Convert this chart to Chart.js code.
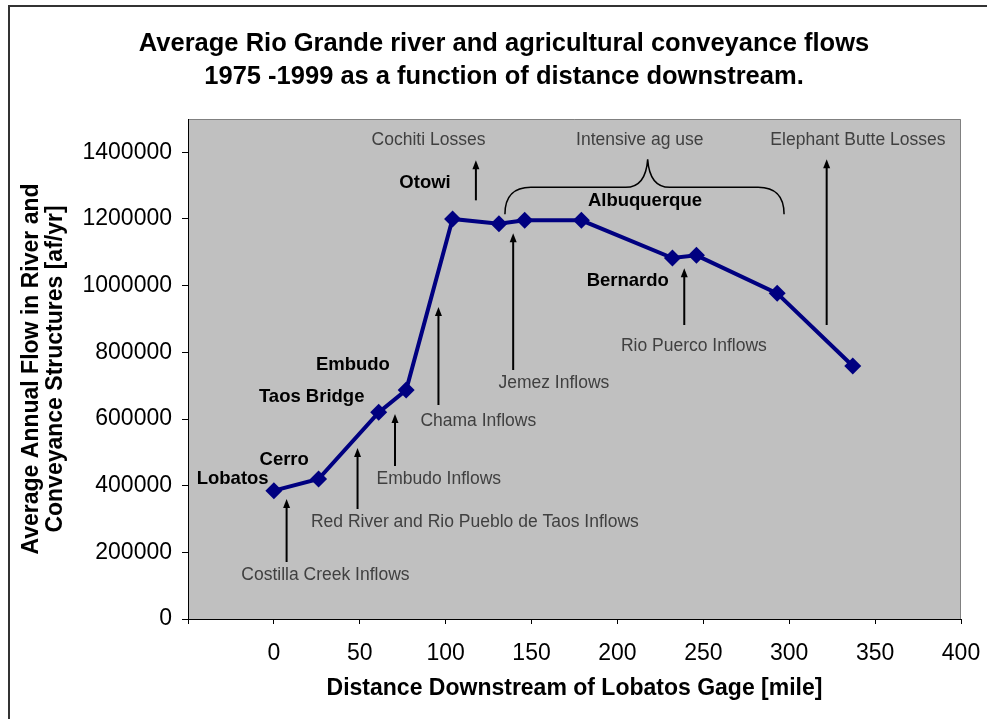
<!DOCTYPE html>
<html lang="en">

<head>
  <meta charset="UTF-8" />
  <title>Rio Grande flows vs distance downstream</title>
  <style>
    body { margin: 0; background: #fff; }
    canvas { display: block; }
  </style>
</head>

<body>
  <canvas id="flowChart" width="987" height="719"></canvas>

  <script src="https://cdn.jsdelivr.net/npm/chart.js@4.4.1/dist/chart.umd.min.js"></script>
  <script>
    // gage data: distance below Lobatos [mile] and mean annual flow [af/yr]
    const distance = [0, 26, 61, 77, 104, 131, 146, 179, 232, 246, 293, 337];
    const flow = [385000, 420000, 620000, 687000, 1200000, 1186000, 1196000, 1196000, 1083000, 1091000, 977000, 759000];

    // axis ticks (the -50 tick has a mark but no label)
    const xTickValues = [-50, 0, 50, 100, 150, 200, 250, 300, 350, 400];
    const yTickValues = [0, 200000, 400000, 600000, 800000, 1000000, 1200000, 1400000];
    const xRange = [-50, 400];
    const yRange = [0, 1500000];

    // gage names (bold), placed in data units
    const siteNames = ['Lobatos', 'Cerro', 'Taos Bridge', 'Embudo', 'Otowi', 'Albuquerque', 'Bernardo'];
    const siteX = [-24, 6, 22, 46, 88, 216, 206];
    const siteY = [420000, 477000, 666000, 762000, 1307000, 1253000, 1013500];

    // grey notes
    const noteText = ['Cochiti Losses', 'Intensive ag use', 'Elephant Butte Losses', 'Costilla Creek Inflows',
      'Red River and Rio Pueblo de Taos Inflows', 'Embudo Inflows', 'Chama Inflows', 'Jemez Inflows', 'Rio Puerco Inflows'];
    const noteX = [90, 213, 340, 30, 117, 96, 119, 163, 244.5];
    const noteY = [1436000, 1436000, 1436000, 132000, 291000, 420000, 594000, 708000, 819000];

    // arrows: x, tail y, head y
    const arrowX = [7.4, 48.7, 70.5, 95.8, 117.6, 139.3, 238.9, 321.8];
    const arrowFrom = [171000, 330000, 459000, 642000, 1256000, 747000, 882000, 882000];
    const arrowTo = [360000, 513000, 615000, 936000, 1376000, 1157000, 1052000, 1379000];

    // brace over the Albuquerque reach: left, tip, right / ends, bar, tip
    const braceX = [134.5, 217.6, 297];
    const braceY = [1214000, 1295000, 1379000];

    const titleLines = ['Average Rio Grande river and agricultural conveyance flows',
      '1975 -1999 as a function of distance downstream.'];

    const FONT = "'Liberation Sans', Arial, sans-serif";

    const annotate = {
      id: 'annotate',
      beforeDraw(chart) {
        const { ctx, chartArea: a } = chart;
        ctx.save();
        ctx.fillStyle = '#fff';
        ctx.fillRect(0, 0, chart.width, chart.height);
        ctx.strokeStyle = '#333';
        ctx.lineWidth = 2;
        ctx.strokeRect(9, 6, 1200, 1200);
        ctx.fillStyle = '#c0c0c0';
        ctx.fillRect(a.left, a.top, a.right - a.left, a.bottom - a.top);
        ctx.strokeStyle = '#808080';
        ctx.lineWidth = 1;
        ctx.beginPath();
        ctx.moveTo(a.left, a.top + 0.5);
        ctx.lineTo(a.right - 0.5, a.top + 0.5);
        ctx.lineTo(a.right - 0.5, a.bottom);
        ctx.stroke();
        ctx.restore();
      },
      beforeDatasetsDraw(chart) {
        const { ctx, scales: { x, y } } = chart;
        ctx.save();

        // arrows
        ctx.strokeStyle = '#000';
        ctx.fillStyle = '#000';
        ctx.lineWidth = 2;
        arrowX.forEach((v, i) => {
          const px = x.getPixelForValue(v);
          const y0 = y.getPixelForValue(arrowFrom[i]);
          const y1 = y.getPixelForValue(arrowTo[i]);
          ctx.beginPath();
          ctx.moveTo(px, y0);
          ctx.lineTo(px, y1 + 6);
          ctx.stroke();
          ctx.beginPath();
          ctx.moveTo(px, y1);
          ctx.lineTo(px - 3.5, y1 + 9);
          ctx.lineTo(px + 3.5, y1 + 9);
          ctx.closePath();
          ctx.fill();
        });

        // brace
        const bx0 = x.getPixelForValue(braceX[0]);
        const bxm = x.getPixelForValue(braceX[1]);
        const bx1 = x.getPixelForValue(braceX[2]);
        const byEnd = y.getPixelForValue(braceY[0]);
        const byBar = y.getPixelForValue(braceY[1]);
        const byTip = y.getPixelForValue(braceY[2]);
        ctx.lineWidth = 1.5;
        ctx.beginPath();
        ctx.moveTo(bx0, byEnd);
        ctx.quadraticCurveTo(bx0, byBar, bx0 + 26, byBar);
        ctx.lineTo(bxm - 22, byBar);
        ctx.quadraticCurveTo(bxm - 2, byBar, bxm, byTip);
        ctx.quadraticCurveTo(bxm + 2, byBar, bxm + 22, byBar);
        ctx.lineTo(bx1 - 26, byBar);
        ctx.quadraticCurveTo(bx1, byBar, bx1, byEnd);
        ctx.stroke();

        // labels
        ctx.textAlign = 'center';
        ctx.textBaseline = 'middle';
        ctx.fillStyle = '#000';
        ctx.font = 'bold 18.5px ' + FONT;
        siteNames.forEach((t, i) => {
          ctx.fillText(t, x.getPixelForValue(siteX[i]), y.getPixelForValue(siteY[i]));
        });
        ctx.fillStyle = '#404040';
        ctx.font = '17.5px ' + FONT;
        noteText.forEach((t, i) => {
          ctx.fillText(t, x.getPixelForValue(noteX[i]), y.getPixelForValue(noteY[i]));
        });
        ctx.restore();
      },
      afterDraw(chart) {
        const { ctx } = chart;
        ctx.save();
        ctx.fillStyle = '#000';
        ctx.textAlign = 'center';
        ctx.textBaseline = 'middle';
        ctx.font = 'bold 25.5px ' + FONT;
        ctx.fillText(titleLines[0], 504, 44);
        ctx.fillText(titleLines[1], 504, 77);
        ctx.restore();
      }
    };

    const ctx = document.getElementById('flowChart').getContext('2d');

    const flowChart = new Chart(ctx, {
      type: 'line',
      data: {
        datasets: [{
          label: 'Average annual flow',
          data: distance.map((d, i) => ({ x: d, y: flow[i] })),
          borderColor: '#000080',
          backgroundColor: '#000080',
          borderWidth: 4,
          pointStyle: 'rectRot',
          pointRadius: 8.5,
          pointBorderWidth: 0,
          pointBackgroundColor: '#000080',
          tension: 0
        }]
      },
      options: {
        responsive: false,
        devicePixelRatio: 1,
        animation: false,
        layout: { padding: { top: 119, right: 26, left: 0, bottom: 0 } },
        plugins: {
          legend: { display: false },
          tooltip: { enabled: false }
        },
        scales: {
          x: {
            type: 'linear',
            min: xRange[0],
            max: xRange[1],
            afterBuildTicks: s => { s.ticks = xTickValues.map(v => ({ value: v })); },
            afterFit: s => { s.height = 100; s.paddingLeft = 0; s.paddingRight = 0; },
            ticks: {
              color: '#000',
              padding: 16,
              maxRotation: 0,
              autoSkip: false,
              font: { family: FONT, size: 23 },
              callback: v => v < 0 ? '' : v
            },
            grid: { drawOnChartArea: false, drawTicks: true, tickLength: 5, tickColor: '#000' },
            border: { display: true, color: '#000', width: 1 },
            title: {
              display: true,
              text: 'Distance Downstream of Lobatos Gage [mile]',
              color: '#000',
              font: { family: FONT, size: 23, weight: 'bold', lineHeight: 1.2 },
              padding: { top: 0, bottom: 17 }
            }
          },
          y: {
            type: 'linear',
            min: yRange[0],
            max: yRange[1],
            afterBuildTicks: s => { s.ticks = yTickValues.map(v => ({ value: v })); },
            afterFit: s => { s.width = 188; },
            ticks: {
              color: '#000',
              padding: 10,
              autoSkip: false,
              font: { family: FONT, size: 23 },
              callback: v => String(v)
            },
            grid: { drawOnChartArea: false, drawTicks: true, tickLength: 6, tickColor: '#000' },
            border: { display: true, color: '#000', width: 1 },
            title: {
              display: true,
              text: ['Average Annual Flow in River and', 'Conveyance Structures [af/yr]'],
              color: '#000',
              font: { family: FONT, size: 23, weight: 'bold', lineHeight: 1.04 },
              padding: { top: 20, bottom: 0 }
            }
          }
        }
      },
      plugins: [annotate]
    });
  </script>
</body>

</html>
